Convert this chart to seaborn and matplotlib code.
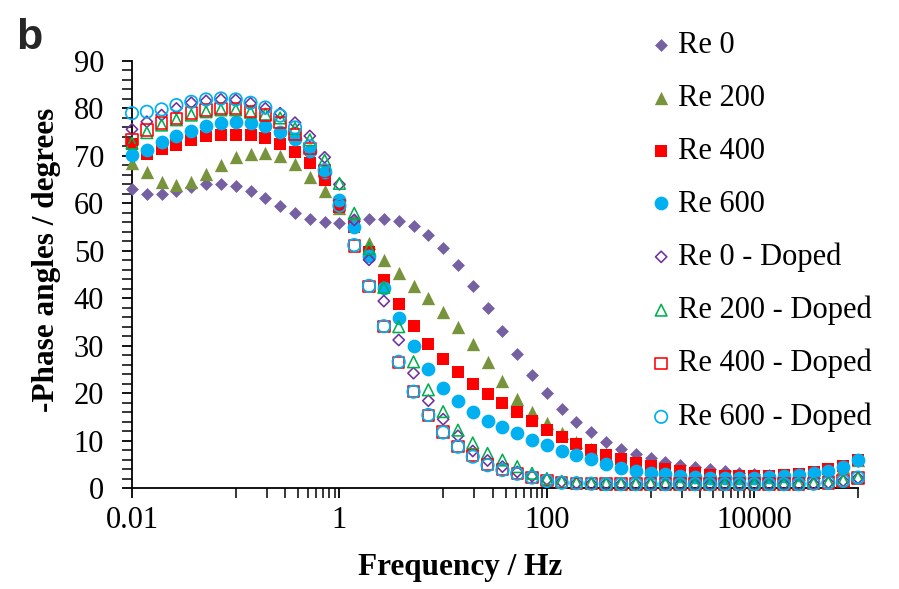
import matplotlib
matplotlib.use("Agg")
import matplotlib.pyplot as plt
import seaborn as sns
from matplotlib.ticker import FixedLocator, FixedFormatter, MultipleLocator, NullFormatter

freq = [0.01, 0.0139, 0.0193, 0.0268, 0.0373, 0.0518, 0.0720,
        0.1, 0.139, 0.193, 0.268, 0.373, 0.518, 0.720,
        1, 1.39, 1.93, 2.68, 3.73, 5.18, 7.20,
        10, 13.9, 19.3, 26.8, 37.3, 51.8, 72.0,
        100, 139, 193, 268, 373, 518, 720,
        1000, 1390, 1930, 2680, 3730, 5180, 7200,
        10000, 13900, 19300, 26800, 37300, 51800, 72000,
        100000]

re0 = [63.0, 62.0, 62.0, 62.7, 63.5, 64.1, 64.1, 63.6, 62.5, 61.2,
       59.5, 58.0, 56.8, 56.1, 55.9, 56.3, 56.8, 56.7, 56.2, 55.3,
       53.4, 50.5, 47.0, 42.6, 38.0, 33.0, 28.2, 23.8, 20.0, 16.7,
       13.9, 11.7, 9.8, 8.3, 7.2, 6.3, 5.5, 4.8, 4.4, 3.9,
       3.6, 3.2, 2.9, 2.8, 2.8, 2.9, 3.2, 3.7, 4.4, 5.7]
re200 = [68.6, 66.5, 64.6, 63.9, 64.4, 66.2, 68.1, 69.8, 70.5, 70.7,
         70.0, 68.3, 65.6, 62.5, 59.0, 56.0, 51.6, 48.1, 45.3, 42.6,
         40.1, 37.1, 34.0, 30.4, 26.5, 22.6, 18.8, 16.1, 13.6, 11.6,
         9.8, 8.3, 7.0, 6.0, 5.0, 4.3, 3.7, 3.3, 3.0, 2.7,
         2.5, 2.4, 2.4, 2.5, 2.7, 2.9, 3.3, 3.8, 4.5, 5.9]
re400 = [72.5, 70.5, 71.4, 72.3, 73.4, 74.1, 74.4, 74.4, 74.3, 73.7,
         72.5, 70.8, 68.6, 64.9, 59.3, 55.1, 49.8, 43.8, 38.7, 34.1,
         30.3, 27.1, 24.4, 22.0, 19.8, 18.0, 16.0, 14.1, 12.3, 10.7,
         9.3, 8.1, 7.0, 6.1, 5.3, 4.6, 4.0, 3.5, 3.1, 2.8,
         2.6, 2.5, 2.5, 2.6, 2.8, 3.0, 3.4, 3.9, 4.7, 6.0]
re600 = [70.2, 71.2, 73.0, 74.1, 75.3, 76.3, 76.9, 77.2, 77.0, 76.3,
         75.0, 73.5, 71.0, 66.5, 60.8, 55.1, 48.9, 42.2, 35.8, 29.9,
         25.0, 21.1, 18.4, 16.0, 14.2, 12.8, 11.6, 10.2, 9.0, 7.9,
         6.9, 6.1, 5.0, 4.3, 3.6, 3.2, 2.9, 2.6, 2.4, 2.2,
         2.2, 2.2, 2.2, 2.4, 2.6, 2.7, 3.1, 3.6, 4.4, 5.8]
re0_doped = [75.6, 77.2, 78.6, 80.0, 81.2, 81.6, 81.9, 81.8, 81.1, 80.0,
             79.0, 77.0, 74.2, 69.7, 64.0, 56.5, 48.1, 39.4, 31.2, 24.2,
             18.4, 14.5, 11.0, 7.8, 5.8, 4.5, 3.4, 2.5, 1.8, 1.3,
             1.0, 0.9, 0.9, 0.8, 0.8, 0.8, 0.8, 0.8, 0.8, 0.8,
             0.8, 0.8, 0.8, 0.8, 0.8, 0.8, 0.9, 1.1, 1.5, 2.1]
re200_doped = [72.7, 74.9, 76.5, 77.6, 78.6, 79.3, 79.7, 79.7, 79.2, 78.8,
               78.0, 75.8, 73.4, 69.1, 64.2, 57.9, 50.5, 42.3, 34.0, 26.6,
               20.7, 16.1, 12.2, 9.5, 7.3, 5.9, 4.5, 3.1, 2.0, 1.4,
               1.1, 1.0, 0.9, 0.9, 0.9, 0.9, 0.9, 0.9, 0.9, 0.9,
               0.9, 0.9, 0.9, 0.9, 0.9, 0.9, 1.0, 1.2, 1.6, 2.2]
re400_doped = [73.4, 75.5, 76.9, 77.9, 79.0, 79.7, 80.0, 80.0, 79.3, 78.6,
               77.0, 74.5, 71.5, 66.8, 59.5, 51.0, 42.5, 34.0, 26.5, 20.3,
               15.3, 11.8, 8.8, 6.8, 5.0, 3.9, 3.0, 2.2, 1.6, 1.2,
               1.0, 0.9, 0.8, 0.8, 0.8, 0.8, 0.8, 0.8, 0.8, 0.8,
               0.8, 0.8, 0.8, 0.8, 0.8, 0.8, 0.9, 1.1, 1.5, 2.1]
re600_doped = [79.0, 79.3, 79.8, 80.7, 81.4, 81.9, 82.1, 81.9, 81.2, 80.2,
               78.5, 76.0, 72.0, 67.0, 59.5, 51.2, 42.6, 34.1, 26.6, 20.3,
               15.4, 11.7, 8.7, 6.6, 4.8, 3.8, 3.0, 2.2, 1.5, 1.1,
               1.0, 0.9, 0.8, 0.8, 0.8, 0.8, 0.8, 0.8, 0.8, 0.8,
               0.8, 0.8, 0.8, 0.8, 0.8, 0.8, 0.9, 1.1, 1.5, 2.2]

labels = ["Re 0", "Re 200", "Re 400", "Re 600",
          "Re 0 - Doped", "Re 200 - Doped", "Re 400 - Doped", "Re 600 - Doped"]
series = [re0, re200, re400, re600, re0_doped, re200_doped, re400_doped, re600_doped]

x_ticks = [0.01, 1, 100, 10000]
x_tick_labels = ["0.01", "1", "100", "10000"]

sns.set_theme(style="white")
plt.rcParams['font.family'] = ['Liberation Serif', 'DejaVu Serif']

fig = plt.figure(figsize=(8.99, 5.89), dpi=100)
ax = fig.add_axes([132/899, 1-488/589, (858-132)/899, (488-61)/589])

styles = [
    dict(marker="D", s=43, color="#7560A1", linewidth=0),
    dict(marker="^", s=92, color="#77933C", linewidth=0),
    dict(marker="s", s=86, color="#FF0000", linewidth=0),
    dict(marker="o", s=98, color="#00B0F0", linewidth=0),
    dict(marker="D", s=33, facecolors="none", edgecolor="#7030A0", linewidth=1.15),
    dict(marker="^", s=70, facecolors="none", edgecolor="#00B050", linewidth=1.15),
    dict(marker="s", s=68, facecolors="none", edgecolor="#FF0000", linewidth=1.15),
    dict(marker="o", s=80, facecolors="none", edgecolor="#00B0F0", linewidth=1.25),
]

for i, (vals, lab, st) in enumerate(zip(series, labels, styles)):
    sns.scatterplot(x=freq, y=vals, ax=ax, label=lab, clip_on=False,
                    zorder=3 + i, **st)

ax.set_xscale("log")
ax.set_xlim(0.01, 100000)
ax.set_ylim(0, 90)

ax.xaxis.set_major_locator(FixedLocator(x_ticks))
ax.xaxis.set_major_formatter(FixedFormatter(x_tick_labels))
minor = []
for e in [-1, 1, 3]:
    for j in range(1, 10):
        minor.append(j * 10.0 ** e)
minor.append(1e5)
ax.xaxis.set_minor_locator(FixedLocator(minor))
ax.xaxis.set_minor_formatter(NullFormatter())
ax.yaxis.set_major_locator(MultipleLocator(10))
ax.yaxis.set_minor_locator(MultipleLocator(2))
ax.yaxis.set_minor_formatter(NullFormatter())

for side in ["top", "right"]:
    ax.spines[side].set_visible(False)
for side in ["left", "bottom"]:
    ax.spines[side].set_color("black")
    ax.spines[side].set_linewidth(1.3)

ax.tick_params(axis="x", which="major", direction="out", length=7, width=1.3,
               labelsize=22, pad=6, bottom=True, colors="black")
ax.tick_params(axis="x", which="minor", direction="out", length=7, width=1.1,
               bottom=True, colors="black")
ax.tick_params(axis="y", which="major", direction="out", length=7, width=1.3,
               labelsize=22, pad=13, left=True, colors="black")
ax.tick_params(axis="y", which="minor", direction="out", length=7, width=1.1,
               left=True, colors="black")

ax.set_xlabel("Frequency / Hz", fontsize=22.5, fontweight="bold", color="black")
ax.set_ylabel("-Phase angles / degrees", fontsize=22.5, fontweight="bold", color="black")
ax.xaxis.set_label_coords((460-132)/726, (488-553)/427)
ax.yaxis.set_label_coords((61-132)/726, (488-260)/427)

leg = ax.legend(loc="upper left", bbox_to_anchor=(652/899, 1-31/589),
                bbox_transform=fig.transFigure, frameon=False, fontsize=22,
                borderpad=0, borderaxespad=0, handlelength=0.6,
                handletextpad=0.25, labelspacing=0.78, scatterpoints=1)
for t in leg.get_texts():
    t.set_color("black")

fig.text(16/899, 1-49/589, "b", fontsize=31, fontweight="bold",
         family=["Liberation Sans", "DejaVu Sans"], ha="left", va="baseline")

fig.savefig("out.png", dpi=100)
